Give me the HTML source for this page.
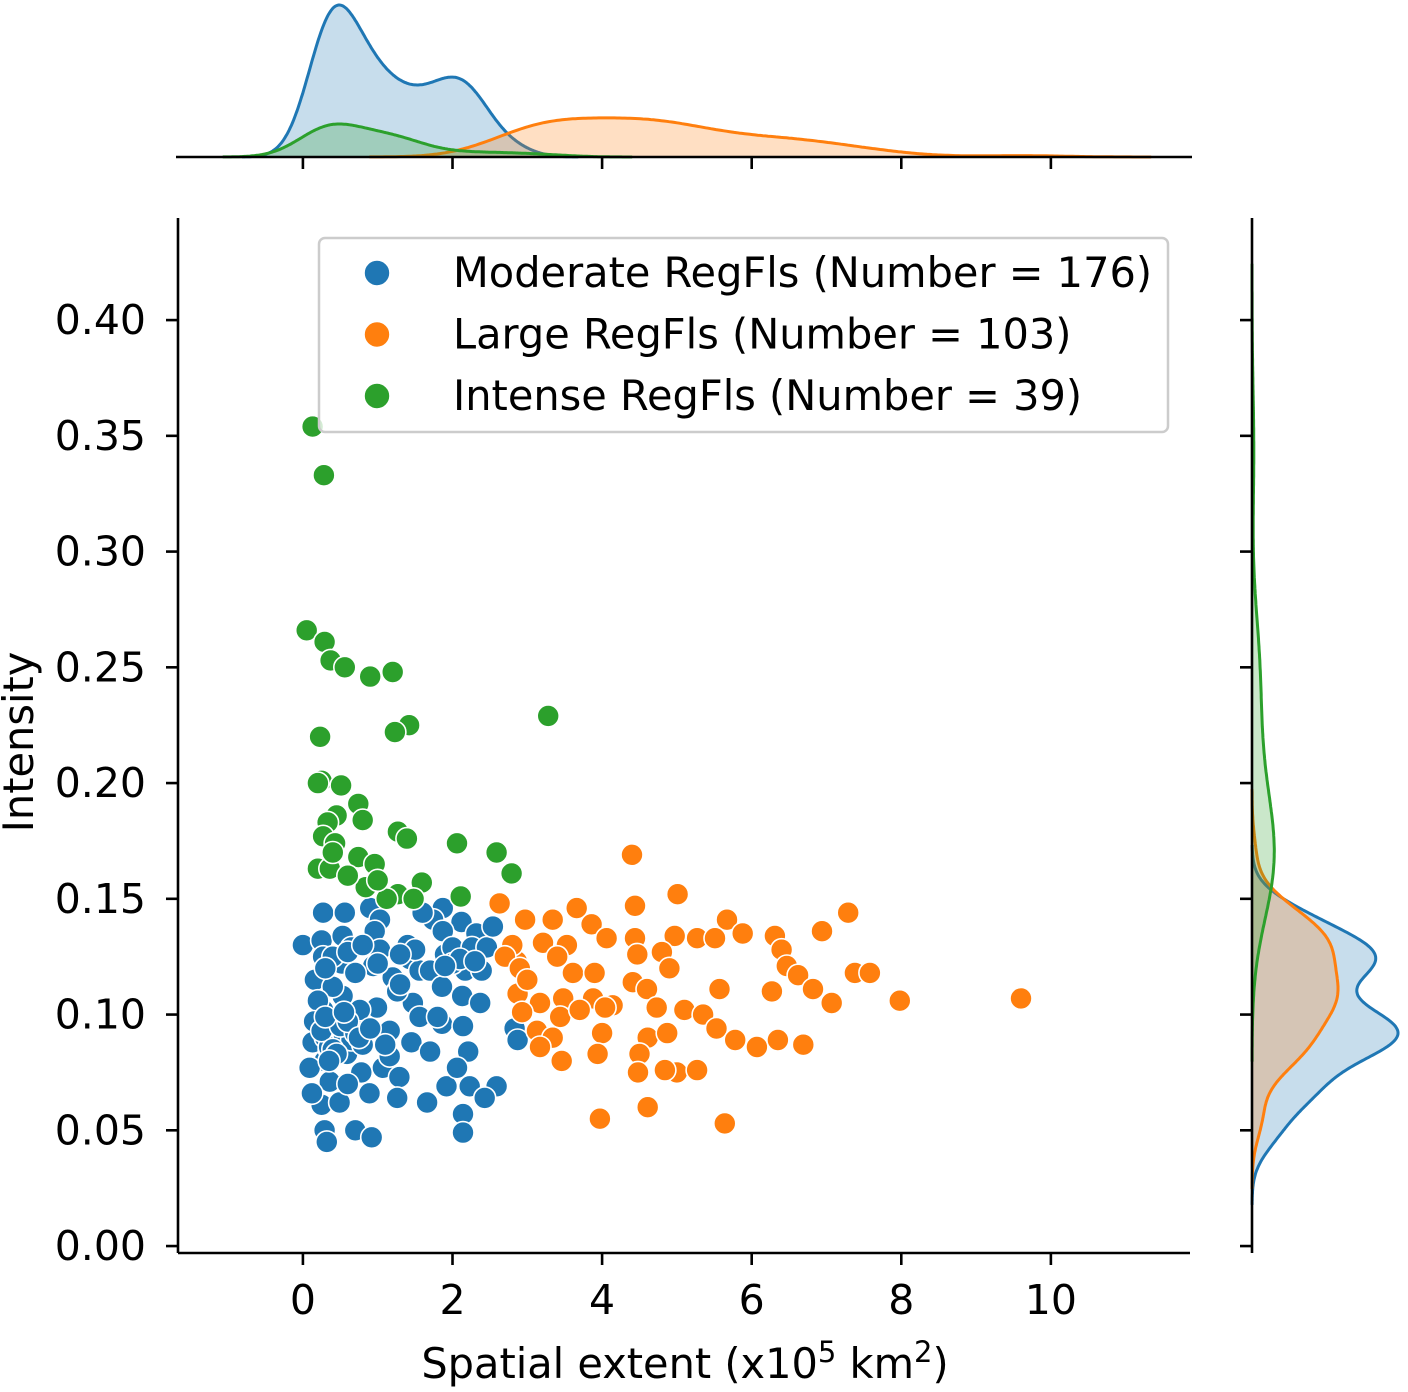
<!DOCTYPE html>
<html><head><meta charset="utf-8">
<style>
html,body{margin:0;padding:0;background:#fff;}
svg{display:block;font-family:"DejaVu Sans","Liberation Sans",sans-serif;}
</style></head>
<body>
<svg id="chart" width="1408" height="1392" viewBox="0 0 1408 1392" xmlns="http://www.w3.org/2000/svg">
<g id="top-kde"></g>
<g id="right-kde"></g>
<g id="points"></g>
<g id="axes"></g>
<g id="legend"></g>
</svg>
<script>
const seriesNames = ["Moderate RegFls (Number = 176)","Large RegFls (Number = 103)","Intense RegFls (Number = 39)"];
const seriesCounts = [176,103,39];
const seriesColors = ["#1f77b4","#ff7f0e","#2ca02c"];
const xTicks = [0,2,4,6,8,10];
const yTicks = [0,0.05,0.10,0.15,0.20,0.25,0.30,0.35,0.40];
const yTickLabels = ["0.00","0.05","0.10","0.15","0.20","0.25","0.30","0.35","0.40"];
const moderateX = [0.0,0.27,0.56,0.25,0.53,0.65,0.27,0.52,0.16,0.9,1.03,0.96,0.94,1.4,1.43,1.2,1.56,1.87,2.12,1.74,1.87,2.32,1.9,2.0,2.26,2.46,2.54,2.17,2.39,1.7,1.86,2.13,2.37,1.47,1.26,0.99,0.53,0.27,0.83,1.16,0.53,0.27,1.86,2.14,1.45,1.7,2.21,0.29,0.09,0.59,0.78,1.07,1.29,0.36,0.89,1.26,1.66,1.92,2.23,2.59,2.43,0.25,0.12,0.49,2.14,2.14,0.29,0.32,0.7,0.92,2.83,2.87,0.76,0.4,1.56,1.16,0.13,2.06,1.03,1.6,0.2,0.45,1.3,1.8,0.35,0.6,1.1,2.0,0.15,0.7,0.3,0.4,0.5,0.6,0.35,0.45,0.55,0.65,0.25,0.4,0.5,0.7,0.8,0.3,0.45,0.6,0.75,0.9,0.35,0.55,0.4,0.6,1.0,1.5,2.1,0.3,0.8,1.3,1.9,2.3];
const moderateY = [0.130,0.144,0.144,0.132,0.134,0.129,0.125,0.122,0.115,0.146,0.141,0.136,0.121,0.130,0.124,0.116,0.119,0.146,0.140,0.141,0.136,0.135,0.126,0.129,0.129,0.129,0.138,0.119,0.119,0.119,0.112,0.108,0.105,0.105,0.110,0.103,0.108,0.102,0.095,0.093,0.091,0.093,0.096,0.095,0.088,0.084,0.084,0.080,0.077,0.083,0.075,0.077,0.073,0.071,0.066,0.064,0.062,0.069,0.069,0.069,0.064,0.061,0.066,0.062,0.057,0.049,0.050,0.045,0.050,0.047,0.094,0.089,0.102,0.112,0.099,0.082,0.088,0.077,0.128,0.144,0.106,0.098,0.113,0.099,0.085,0.070,0.087,0.122,0.097,0.118,0.090,0.092,0.088,0.094,0.086,0.096,0.091,0.089,0.093,0.085,0.095,0.092,0.087,0.099,0.083,0.097,0.090,0.094,0.080,0.101,0.125,0.127,0.122,0.128,0.124,0.120,0.130,0.126,0.121,0.123];
const largeX = [4.4,5.01,4.44,7.29,2.63,3.66,2.97,3.34,3.86,5.67,6.94,4.97,5.27,5.51,5.88,6.31,4.06,4.44,3.21,3.53,4.47,4.8,6.4,2.86,3.4,4.9,6.47,3.61,3.9,6.62,7.38,7.58,4.41,4.6,6.82,5.57,6.27,2.87,3.17,3.48,3.88,4.14,4.73,5.1,5.35,7.07,2.93,3.44,3.7,4.04,5.53,3.13,3.34,4.0,4.61,4.87,5.78,6.07,6.35,6.69,3.17,3.94,4.5,3.46,4.48,5.0,5.27,4.84,4.61,3.97,5.64,7.98,9.6,2.8,2.7,2.9,3.0];
const largeY = [0.169,0.152,0.147,0.144,0.148,0.146,0.141,0.141,0.139,0.141,0.136,0.134,0.133,0.133,0.135,0.134,0.133,0.133,0.131,0.130,0.126,0.127,0.128,0.123,0.125,0.120,0.121,0.118,0.118,0.117,0.118,0.118,0.114,0.111,0.111,0.111,0.110,0.109,0.105,0.107,0.107,0.104,0.103,0.102,0.100,0.105,0.101,0.099,0.102,0.103,0.094,0.093,0.090,0.092,0.090,0.092,0.089,0.086,0.089,0.087,0.086,0.083,0.083,0.080,0.075,0.075,0.076,0.076,0.060,0.055,0.053,0.106,0.107,0.130,0.125,0.120,0.115];
const intenseX = [0.13,0.28,0.05,0.29,0.37,0.56,0.9,1.2,3.28,1.42,1.23,0.23,0.25,0.51,0.74,0.45,0.8,0.33,0.27,0.43,1.27,1.39,2.06,2.59,0.74,0.96,0.2,0.36,2.79,1.59,0.84,1.27,1.12,1.48,2.11,0.2,0.6,1.0,0.4];
const intenseY = [0.354,0.333,0.266,0.261,0.253,0.250,0.246,0.248,0.229,0.225,0.222,0.220,0.201,0.199,0.191,0.186,0.184,0.183,0.177,0.174,0.179,0.176,0.174,0.170,0.168,0.165,0.163,0.163,0.161,0.157,0.155,0.152,0.150,0.150,0.151,0.200,0.160,0.158,0.170];

const NS="http://www.w3.org/2000/svg";
function mk(tag, attrs, parent){const e=document.createElementNS(NS,tag);for(const k in attrs)e.setAttribute(k,attrs[k]);parent.appendChild(e);return e;}
const X0=178,X1=1190,Y0=218,Y1=1253;
const xMin=-1.67,xMax=11.86,yMin=-0.003,yMax=0.4441;
const sx=v=>X0+(v-xMin)/(xMax-xMin)*(X1-X0);
const sy=v=>Y1-(v-yMin)/(yMax-yMin)*(Y1-Y0);

const groupsX=[moderateX,largeX,intenseX], groupsY=[moderateY,largeY,intenseY];
const N=seriesCounts.reduce((a,b)=>a+b,0);

function std(a){const m=a.reduce((s,v)=>s+v,0)/a.length;return Math.sqrt(a.reduce((s,v)=>s+(v-m)*(v-m),0)/(a.length-1));}
function bw(arr,i){return std(arr)*Math.pow(seriesCounts[i],-0.2);}
function kde(arr,grid,i){const h=bw(arr,i);const w=seriesCounts[i]/N;return grid.map(g=>{let s=0;for(const v of arr){const z=(g-v)/h;s+=Math.exp(-0.5*z*z);}return w*s/(arr.length*h*Math.sqrt(2*Math.PI));});}
function kdeSupport(arr,i){const h=bw(arr,i);return[Math.min(...arr)-3*h,Math.max(...arr)+3*h];}

const topG=document.getElementById('top-kde'), rightG=document.getElementById('right-kde');
const topBase=157, rightBase=1252;
const topD=[],rightD=[];
let maxTop=0,maxRight=0;
for(let i=0;i<3;i++){
  const [a,b]=kdeSupport(groupsX[i],i);const gx=[];for(let k=0;k<=300;k++)gx.push(a+(b-a)*k/300);
  const dx=kde(groupsX[i],gx,i);topD.push([gx,dx]);maxTop=Math.max(maxTop,...dx);
  const [c,d]=kdeSupport(groupsY[i],i);const gy=[];for(let k=0;k<=300;k++)gy.push(c+(d-c)*k/300);
  const dy=kde(groupsY[i],gy,i);rightD.push([gy,dy]);maxRight=Math.max(maxRight,...dy);
}
const tsc=v=>topBase-v/maxTop*152;
const rsc=v=>rightBase+v/maxRight*146;
for(let i=0;i<3;i++){
  const [gx,dx]=topD[i];
  let line=gx.map((g,k)=>(k?'L':'M')+sx(g).toFixed(1)+','+tsc(dx[k]).toFixed(1)).join('');
  const f=mk('path',{d:line+'L'+sx(gx[gx.length-1]).toFixed(1)+','+topBase+'L'+sx(gx[0]).toFixed(1)+','+topBase+'Z',fill:seriesColors[i],'fill-opacity':0.25,stroke:'none'},topG);
  
  
  const l=mk('path',{d:line,fill:'none',stroke:seriesColors[i],'stroke-width':3},topG);
  
  
  const [gy,dy]=rightD[i];
  let rl=gy.map((g,k)=>(k?'L':'M')+rsc(dy[k]).toFixed(1)+','+sy(g).toFixed(1)).join('');
  const rf=mk('path',{d:rl+'L'+rightBase+','+sy(gy[gy.length-1]).toFixed(1)+'L'+rightBase+','+sy(gy[0]).toFixed(1)+'Z',fill:seriesColors[i],'fill-opacity':0.25,stroke:'none'},rightG);
  
  
  const rll=mk('path',{d:rl,fill:'none',stroke:seriesColors[i],'stroke-width':3},rightG);
  
  
}

const pg=document.getElementById('points');
for(let i=0;i<3;i++){for(let k=0;k<groupsX[i].length;k++){
  const c=mk('circle',{cx:sx(groupsX[i][k]).toFixed(1),cy:sy(groupsY[i][k]).toFixed(1),r:11,fill:seriesColors[i],stroke:'#fff','stroke-width':1.6},pg);
  
  
}}

const ax=document.getElementById('axes');
const st={stroke:'#000','stroke-width':2.6,fill:'none'};
const add=(tag,attrs,name)=>{const e=mk(tag,attrs,ax);return e;};
add('line',Object.assign({x1:X0,y1:Y0,x2:X0,y2:Y1},st),'y-axis-line');
add('line',Object.assign({x1:X0,y1:Y1,x2:X1,y2:Y1},st),'x-axis-line');
add('line',Object.assign({x1:176,y1:topBase,x2:1192,y2:topBase},st),'top-marginal-baseline');
add('line',Object.assign({x1:rightBase,y1:Y0,x2:rightBase,y2:Y1},st),'right-marginal-baseline');
xTicks.forEach(t=>{
  add('line',Object.assign({x1:sx(t),y1:Y1,x2:sx(t),y2:Y1+12},st),'x-tick');
  add('line',Object.assign({x1:sx(t),y1:topBase,x2:sx(t),y2:topBase+12},st),'top-x-tick');
  const tx=add('text',{x:sx(t),y:1314,'font-size':41,'text-anchor':'middle',fill:'#000'},'x-tick-label');tx.textContent=String(t);
});
yTicks.forEach((t,i)=>{
  add('line',Object.assign({x1:X0-12,y1:sy(t),x2:X0,y2:sy(t)},st),'y-tick');
  add('line',Object.assign({x1:rightBase-12,y1:sy(t),x2:rightBase,y2:sy(t)},st),'right-y-tick');
  const ty=add('text',{x:146,y:sy(t)+14,'font-size':41,'text-anchor':'end',fill:'#000'},'y-tick-label');ty.textContent=yTickLabels[i];
});
const xt=add('text',{x:685,y:1378,'font-size':41.5,'text-anchor':'middle',fill:'#000'},'x-axis-title');
xt.innerHTML='Spatial extent (x10<tspan dy="-16" font-size="29">5</tspan><tspan dy="16"> km</tspan><tspan dy="-16" font-size="29">2</tspan><tspan dy="16">)</tspan>';
const yt=add('text',{x:0,y:0,'font-size':41.5,'text-anchor':'middle',fill:'#000',transform:'translate(33,742) rotate(-90)'},'y-axis-title');yt.textContent='Intensity';

const lg=document.getElementById('legend');
const box=mk('rect',{x:319,y:238,width:849,height:194,rx:6,fill:'#fff','fill-opacity':0.8,stroke:'#ccc','stroke-width':2.5},lg);


seriesNames.forEach((n,i)=>{
  const y=273+i*61.5;
  const m=mk('circle',{cx:377,cy:y,r:13,fill:seriesColors[i],stroke:'#fff','stroke-width':1.6},lg);
  
  
  const t=mk('text',{x:453,y:y+14,'font-size':41.5,fill:'#000'},lg);
  
  
  t.textContent=n;
});
</script>
</body></html>
